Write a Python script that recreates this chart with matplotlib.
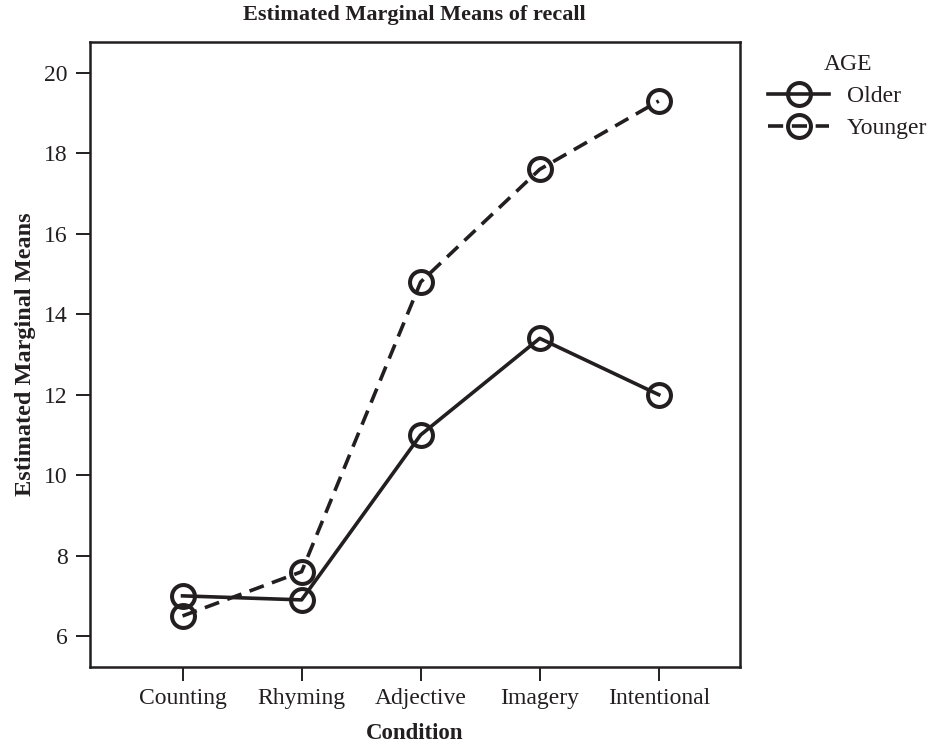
import matplotlib
matplotlib.use('Agg')
from matplotlib import pyplot as plt

plt.rcParams['font.family'] = ['Liberation Serif', 'DejaVu Serif']

conditions = ['Counting', 'Rhyming', 'Adjective', 'Imagery', 'Intentional']
older = [7.0, 6.9, 11.0, 13.4, 12.0]
younger = [6.5, 7.6, 14.8, 17.6, 19.3]
y_ticks = [6, 8, 10, 12, 14, 16, 18, 20]

ink = '#231f20'

fig = plt.figure(figsize=(9.34, 7.47), dpi=100)
ax = fig.add_axes([0.096, 0.107, 0.696, 0.837])

x = range(len(conditions))
marker_style = dict(marker='o', markersize=16.5, markerfacecolor='none',
                    markeredgewidth=2.9, color=ink, linewidth=2.6)
ax.plot(x, older, linestyle='-', label='Older', **marker_style)
ax.plot(x, younger, linestyle=(0, (4.2, 2.4)), label='Younger', **marker_style)

ax.set_xlim(-0.78, 4.68)
ax.set_ylim(5.23, 20.77)
ax.set_xticks(list(x))
ax.set_xticklabels(conditions)
ax.set_yticks(y_ticks)
ax.tick_params(axis='both', labelsize=17, width=1.4, length=10, color=ink,
               labelcolor=ink)
ax.tick_params(axis='x', pad=5)
ax.tick_params(axis='y', pad=6)
for spine in ax.spines.values():
    spine.set_linewidth(1.8)
    spine.set_color(ink)

ax.set_title('Estimated Marginal Means of recall', fontsize=16,
             fontweight='bold', pad=16, color=ink)
ax.set_xlabel('Condition', fontsize=16.5, fontweight='bold', color=ink,
              labelpad=10)
ax.set_ylabel('Estimated Marginal Means', fontsize=17.5, fontweight='bold',
              color=ink)
ax.yaxis.set_label_coords(-0.082, 0.5)

# legend sits outside the frame, top right, no box
leg = ax.legend(title='AGE', loc='upper left',
                bbox_to_anchor=(768 / 934, 1 - 54 / 747),
                bbox_transform=fig.transFigure,
                frameon=False, fontsize=17, title_fontsize=17,
                handlelength=2.6, handletextpad=0.75, borderaxespad=0,
                borderpad=0, labelspacing=0.45)
for text in leg.get_texts():
    text.set_color(ink)
leg.get_title().set_color(ink)

fig.savefig('out.png', dpi=100)
